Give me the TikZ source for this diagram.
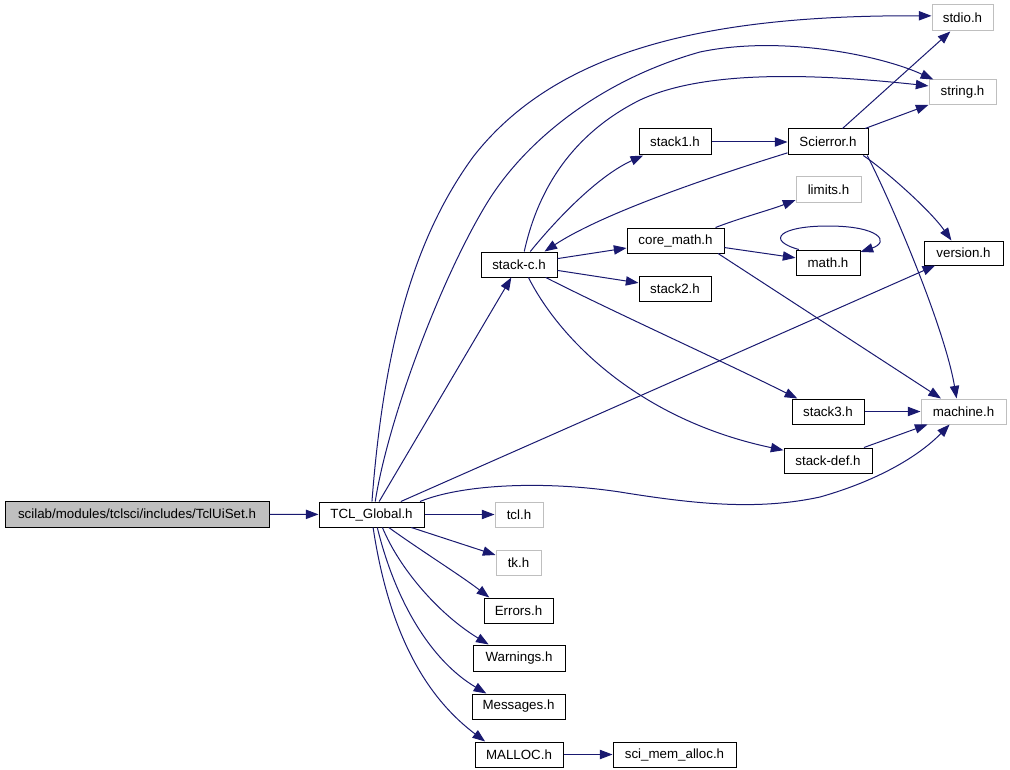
\documentclass[tikz,border=0pt]{standalone}
\usepackage{fontspec}
\setmainfont{Liberation Sans}
\usetikzlibrary{arrows.meta}
\definecolor{edgecol}{HTML}{191970}
\definecolor{greyb}{HTML}{BFBFBF}
\tikzset{
  box/.style={draw=black, line width=0.75pt, inner sep=0pt, font=\fontsize{10}{12}\selectfont, text=black},
  ext/.style={box, draw=greyb},
  wh/.style 2 args={minimum width=#1*0.75pt, minimum height=#2*0.75pt},
  edge/.style={draw=edgecol, line width=0.75pt, -{Triangle[length=9.5pt,width=7pt]}},
}
\begin{document}
\begin{tikzpicture}[x=0.75pt,y=-0.75pt]
\useasboundingbox (0,0) rectangle (1010,770);
% nodes
\node[box, fill=greyb, wh={264}{26}] (tclui) at (137,514) {scilab/modules/tclsci/includes/TclUiSet.h};
\node[box, wh={105}{25}] (tclg) at (371.5,514.5) {TCL\_Global.h};
\node[ext, wh={48}{25}] (tcl) at (519,514.5) {tcl.h};
\node[ext, wh={45}{25}] (tk) at (518.5,562.5) {tk.h};
\node[box, wh={69}{25}] (errors) at (518.5,610.5) {Errors.h};
\node[box, wh={92}{26}] (warnings) at (519,658) {Warnings.h};
\node[box, wh={93}{25}] (messages) at (518.5,706.5) {Messages.h};
\node[box, wh={88}{25}] (malloc) at (519,754.5) {MALLOC.h};
\node[box, wh={123}{25}] (scimem) at (674.5,754.5) {sci\_mem\_alloc.h};
\node[box, wh={76}{25}] (stackc) at (519,264.5) {stack-c.h};
\node[box, wh={72}{26}] (stack1) at (675,142) {stack1.h};
\node[box, wh={97}{25}] (coremath) at (675.5,240.5) {core\_math.h};
\node[box, wh={72}{25}] (stack2) at (675,288.5) {stack2.h};
\node[box, wh={80}{26}] (scierror) at (828,142) {Scierror.h};
\node[ext, wh={65}{26}] (limits) at (828.5,190) {limits.h};
\node[box, wh={64}{25}] (math) at (828,262.5) {math.h};
\node[ext, wh={61}{26}] (stdio) at (962.5,18) {stdio.h};
\node[ext, wh={67}{25}] (string) at (962.5,92.5) {string.h};
\node[box, wh={79}{24}] (version) at (963.5,253) {version.h};
\node[ext, wh={85}{25}] (machine) at (963.5,411.5) {machine.h};
\node[box, wh={72}{25}] (stack3) at (828,411.5) {stack3.h};
\node[box, wh={88}{25}] (stackdef) at (828,460.5) {stack-def.h};
% edges
\draw[edge] (tclui) -- (tclg);
\draw[edge] (tclg.88) .. controls (385,330) and (420,230) .. (473,157) .. controls (560,45) and (720,15) .. (stdio.176);
\draw[edge] (tclg.74) .. controls (388,420) and (440,280) .. (487,203) .. controls (525,141) and (600,80) .. (700,52) .. controls (780,35) and (880,55) .. (string.156);
\draw[edge] (tclg) -- (stackc);
\draw[edge] (tclg) -- (version);
\draw[edge] (tclg.15) .. controls (460,485) and (540,480) .. (620,492) .. controls (700,505) and (760,510) .. (820,497) .. controls (880,480) and (920,455) .. (machine.223);
\draw[edge] (tclg) -- (tcl);
\draw[edge] (tclg) -- (tk);
\draw[edge] (tclg.323) .. controls (420,550) and (460,575) .. (errors.156);
\draw[edge] (tclg.310) .. controls (400,570) and (440,615) .. (warnings.156);
\draw[edge] (tclg.294) .. controls (395,600) and (430,660) .. (messages.158);
\draw[edge] (tclg.277) .. controls (390,640) and (430,700) .. (malloc.159);
\draw[edge] (malloc) -- (scimem);
\draw[edge] (stackc.68) .. controls (540,180) and (580,130) .. (640,100) .. controls (700,72) and (800,72) .. (string.169);
\draw[edge] (stackc.49) .. controls (560,215) and (600,175) .. (stack1.203);
\draw[edge] (scierror.195) .. controls (700,180) and (600,215) .. (stackc.27);
\draw[edge] (stack1) -- (scierror);
\draw[edge] (stackc) -- (coremath);
\draw[edge] (stackc) -- (stack2);
\draw[edge] (stackc.334) .. controls (620,315) and (720,360) .. (stack3.157);
\draw[edge] (stackc.306) .. controls (560,340) and (640,420) .. (stackdef.167);
\draw[edge] (coremath.18) .. controls (740,218) and (770,210) .. (limits.197);
\draw[edge] (coremath) -- (math);
\draw[edge] (coremath.343) -- (machine.150);
\draw[edge] (math.156) .. controls (765,240) and (780,226) .. (828,226) .. controls (880,226) and (890,242) .. (math.18);
\draw[edge] (scierror.43) -- (stdio.228);
\draw[edge] (scierror.20) -- (string.200);
\draw[edge] (scierror.339) .. controls (885,170) and (930,210) .. (version.134);
\draw[edge] (scierror.341) .. controls (895,210) and (945,330) .. (machine.118);
\draw[edge] (stack3) -- (machine);
\draw[edge] (stackdef) -- (machine);
\end{tikzpicture}
\end{document}
